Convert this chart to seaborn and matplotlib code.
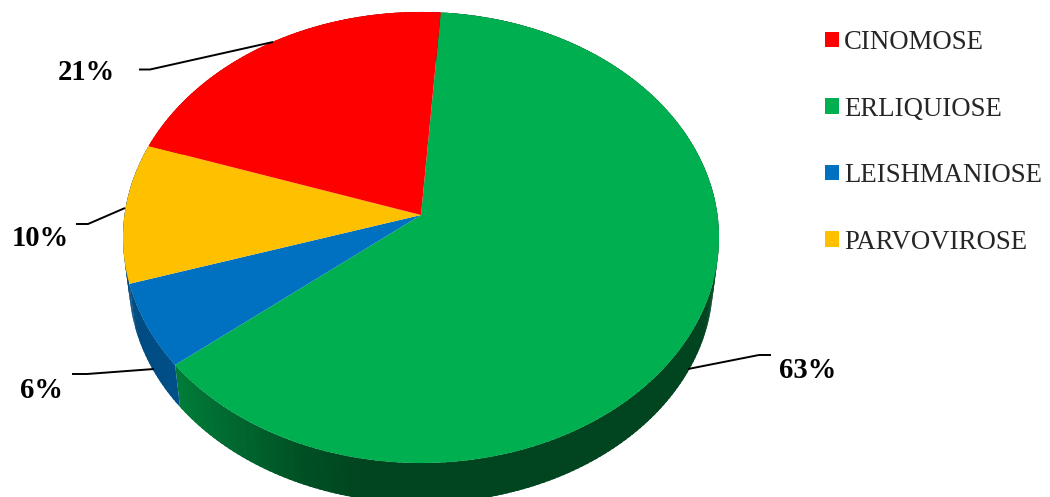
import numpy as np
import matplotlib
matplotlib.use("Agg")
import matplotlib.pyplot as plt
import seaborn as sns
from matplotlib.patches import Patch

# Disease shares (%)
diseases = ["CINOMOSE", "ERLIQUIOSE", "LEISHMANIOSE", "PARVOVIROSE"]
shares = [21, 63, 6, 10]
share_labels = ["21%", "63%", "6%", "10%"]
colors = ["#FF0000", "#00B050", "#0070C0", "#FFC000"]
# The thin rim sliver beside Parvovirose is drawn in Leishmaniose's shadow colour
wall_colors = ["#FF0000", "#00B050", "#0070C0", "#0070C0"]

sns.set_theme(style="white")
plt.rcParams["font.family"] = ["Liberation Serif", "DejaVu Serif"]

fig = plt.figure(figsize=(10.5, 4.97), dpi=100)
ax = fig.add_axes([0, 0, 1, 1])
ax.set_xlim(0, 1050)
ax.set_ylim(497, 0)
ax.axis("off")

# Tilted disc with perspective: the near edge looks larger than the far edge
CX, CY, RX, RY, K = 421.0, 215.0, 296.5, 223.3, 0.0998
# The lower face shrinks slightly toward a vanishing point far below the pie
VANISH_Y, LOWER_SCALE = 2470.0, 0.98


def project(theta):
    """Map clockwise angle from twelve o'clock to canvas coordinates on the top face."""
    x, y = np.sin(theta), -np.cos(theta)
    w = 1 - K * y
    return CX + RX * x / w, CY + RY * y / w


def lower_face(xs, ys):
    return CX + LOWER_SCALE * (xs - CX), VANISH_Y + LOWER_SCALE * (ys - VANISH_Y)


def shade(color, theta):
    """Darken the side wall following the lighting around the rim."""
    deg = np.degrees(theta) % 360
    stops = [0, 190, 194, 202, 212, 231, 255, 360]
    factor = [0.39, 0.39, 0.41, 0.46, 0.56, 0.71, 0.66, 0.66]
    f = np.interp(deg, stops, factor)
    return tuple(c * f for c in matplotlib.colors.to_rgb(color))


# Slices run clockwise, Erliquiose first after the start angle
START_DEG = 4.2
order = [1, 2, 3, 0]
start = np.radians(START_DEG)

for idx in order:
    sweep = 2 * np.pi * shares[idx] / sum(shares)
    stop = start + sweep
    thetas = np.linspace(start, stop, max(int(np.degrees(sweep) * 2), 8))

    # Side wall: short overlapping strips; the top face hides the far side
    steps = np.linspace(start, stop, int(np.degrees(sweep)) + 2)
    for a, b in zip(steps[:-1], steps[1:]):
        ts = np.array([a, min(b + 0.012, stop)])
        xs, ys = project(ts)
        lx, ly = lower_face(xs, ys)
        ax.fill(np.r_[xs, lx[::-1]], np.r_[ys, ly[::-1]],
                color=shade(wall_colors[idx], (a + b) / 2), lw=0, zorder=2)

    # Top face
    xs, ys = project(thetas)
    ax.fill(np.r_[CX, xs], np.r_[CY, ys], color=colors[idx], lw=0, zorder=3)
    start = stop

# Leader lines and value labels
leaders = {
    "21%": ([273, 150, 139], [42, 69.5, 69.5], (86, 73)),
    "63%": ([688, 759, 771], [369, 355, 355], (807.5, 371)),
    "6%": ([154, 87, 72], [369, 374, 374], (41, 391)),
    "10%": ([125, 88, 76], [208, 224, 224], (40, 239)),
}
for text in share_labels:
    lx, ly, pos = leaders[text]
    ax.plot(lx, ly, color="black", lw=1.4, zorder=4, solid_capstyle="butt")
    ax.text(pos[0], pos[1], text, fontsize=20.6, fontweight="bold", color="black",
            ha="center", va="center", zorder=5)

handles = [Patch(facecolor=c, edgecolor="none") for c in colors]
ax.legend(handles, diseases, loc="upper left", bbox_to_anchor=(825 / 1050, 1 - 30 / 497),
          bbox_transform=fig.transFigure, frameon=False, fontsize=19.3,
          labelcolor="#262626", handlelength=0.52, handleheight=0.52, handletextpad=0.2,
          labelspacing=1.55, borderpad=0, borderaxespad=0)

fig.savefig("out.png", dpi=100)
